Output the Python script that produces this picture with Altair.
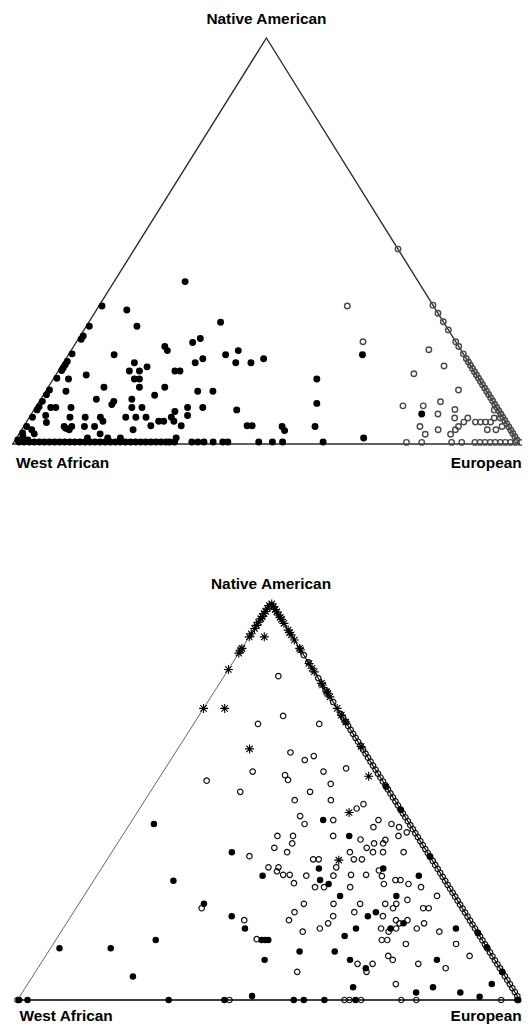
import altair as alt
import pandas as pd

# ---------------- DATA (ancestry proportions, percent) ----------------
# Each point: (European %, Native American %); West African % = 100 - both.

# Upper panel, filled circles
TOP_FILLED_LEFT_EDGE_NAT = [34, 29, 26.6, 25.8, 22.2, 20.3, 19.5, 18.7, 18.1, 16.2,
                            13.3, 12.1, 10.5, 9.2, 8.4, 6.6, 4.3, 2.7]
TOP_FILLED_INNER = [
    (14, 40), (6, 33), (10, 29), (26, 30), (9, 22),
    (18, 24), (19, 23), (23, 25), (24, 26), (26, 20), (27, 21), (31, 22), (33, 23),
    (34, 20), (37, 20), (39, 21),
    (14, 18), (14, 20), (16, 18), (17, 19), (16, 16), (17, 16), (18, 14), (11, 14),
    (11, 11), (18, 11), (23, 18), (24, 18),
    (6, 17), (3, 16), (4, 13), (22, 12), (23, 14), (30, 13), (33, 13), (14.7, 9.7), (14.7, 10.5),
    (19, 9), (21, 9), (3, 9), (4, 9), (7, 9), (30, 9), (33, 9), (3, 7), (28, 8), (31, 7),
    (8, 6.6), (11, 6.6), (14, 6.6), (15, 5.6), (19, 6.6), (21, 6.6), (23, 6.6), (26, 5.6),
    (27, 5.6), (28, 6.6), (29, 5.6), (4, 5.3), (40, 8.4),
    (8, 4.3), (8.5, 3.9), (9.4, 3.5), (9.5, 4.3), (12, 4.3), (14, 4.3), (16, 2.5), (22, 3.5),
    (25, 4.5), (31, 4.5), (44, 4.5), (45, 4.5),
    (51, 4.3), (52, 3.3), (57.5, 4.3), (52, 16), (55, 10), (58, 22), (68.5, 1.5), (77, 7.4),
    (14, 1.5), (18, 1.5), (20.5, 1.5), (31.5, 1.5),
    (0.5, 1), (1.5, 1.2), (2.5, 1), (1, 2), (3, 2.5), (2, 3.5),
]
TOP_FILLED_BASE_EUR = [1, 2, 3, 4, 5, 6, 7, 8, 9, 10, 11, 12, 13, 14, 15, 16, 17, 18, 19,
                       20, 21, 22, 23, 24, 25, 26, 27, 28, 29, 30, 30.7, 31.7, 35.1, 36.3,
                       37.5, 39.3, 41.2, 42.2, 48.3, 51, 53, 61]

# Upper panel, open circles
TOP_OPEN_RIGHT_EDGE_NAT = [48, 34.2, 32.2, 30.1, 28.1, 25.2, 24, 22.2, 21, 20.2, 19.4,
                           18.6, 17.8, 17, 16.2, 15.4, 14.6, 13.8, 13, 12.2, 11.4, 10.6,
                           9.8, 9, 8.2, 7.4, 6.6, 5.8, 5, 4.2, 3.4, 2.6, 1.8, 1]
TOP_OPEN_INNER = [
    (49, 34), (56.5, 25.2), (70.5, 23.2), (75.5, 19.2), (70.5, 17.3), (81.3, 13.3),
    (72.3, 9.4), (76.3, 9.4), (79.2, 10.4), (80.2, 7.4), (83, 8.5), (84, 6.4),
    (78.2, 4.3), (80.2, 2.4), (82.2, 3.5), (85.2, 2.4), (85.6, 3.5), (85.8, 4.3),
    (86.3, 5.4), (86.6, 6.4), (88.6, 5.4), (89.6, 5.4), (90.6, 5.4), (91.6, 5.4),
    (91.9, 3.5), (93.6, 3.5), (90.8, 8.4), (91.8, 6.4), (93, 6.4), (94.4, 4.3),
]
TOP_OPEN_BASE_EUR = [77.5, 80.5, 86.4, 88.4, 91, 92, 93, 94, 95, 96, 97, 98, 99, 100]

# Lower panel, asterisks
BOT_STAR_LEFT_EDGE_NAT = [99.3, 98.6, 97.8, 97.3, 96.5, 96.0, 95.1, 94.3, 93.5, 92.2,
                          91.4, 88.5, 88.1, 87.3, 83.2, 73.4]
BOT_STAR_INNER = [(0.3, 99.7), (3, 91.4), (4.2, 73.4), (14.3, 63.2), (41.5, 56.3),
                  (42.2, 47.2), (46.2, 35.2)]
BOT_STAR_RIGHT_EDGE_NAT = [99, 98.3, 97.7, 96.9, 96.3, 95.8, 94.8, 93.1, 92.5, 91.9, 90.6,
                           88.5, 88.1, 84.7, 83.5, 82.6, 79.7, 79.3, 77.6, 77.2, 76.3, 73.4,
                           71.7, 70.0, 63.8]

# Lower panel, filled circles
BOT_FILLED_INNER = [
    (4.8, 44.3), (23.9, 37.2), (15.9, 30), (24.9, 24.2), (32, 21.1), (36.2, 18),
    (19.9, 15.1), (1.8, 13), (12, 13), (20, 5.9), (41, 15.1), (41.7, 15.1), (42.3, 15.1),
    (44.1, 10.1), (33, 31.3), (38, 45.3), (45.2, 41.3), (43.3, 33.1), (45, 30.2),
    (47.2, 29.2), (51, 26.2), (56.1, 33.1), (62.2, 26.2), (64.1, 31.3), (59.1, 21.1),
    (60.2, 22.1), (58.3, 18), (57, 16.1), (65.2, 18), (67.1, 19.3), (50, 12.2), (57, 12.2),
    (61.1, 10.1), (65.3, 8), (78.4, 10.1), (78.2, 18), (65.2, 3.2), (78.4, 1.9), (81.1, 3.2),
    (87.2, 1.9), (91.6, 0.8), (92.4, 4), (46.2, 1),
]
BOT_FILLED_RIGHT_EDGE_NAT = [53.7, 47.8, 36.2, 16.8, 13.3, 7.1]
BOT_FILLED_BASE_EUR = [0.3, 2, 30.1, 41.2, 55, 57, 61.1, 67.3, 99.7]

# Lower panel, open circles
BOT_OPEN_INNER = [
    (10.8, 81.5), (16.8, 71.5), (12.8, 69.5), (25, 69.5), (22.9, 62.3), (26.7, 60.4),
    (28, 61.4), (36, 58.3), (17.8, 57.5), (24.7, 56.6), (25.9, 55.4), (31.9, 57.5),
    (34.9, 54.4), (9.8, 55.2), (17.9, 52.4), (31.8, 52.4), (29.8, 50.3), (37, 50.3),
    (43.2, 48.2), (44, 49.3), (32.9, 46.3), (34.8, 44.3), (40, 45.3), (49, 45.3),
    (48.9, 43.5), (52.1, 44.3), (54, 43.5), (56.2, 42.2), (30.9, 41.3), (34, 41.3),
    (34.8, 39.4), (42, 41.3), (47.9, 40.4), (51.1, 39.4), (52.9, 40.3), (55, 41.3),
    (31.8, 38.3), (34.9, 37.2), (50.2, 38.3), (52, 37.2), (54, 37.2), (52.9, 39.4),
    (58.1, 37.2), (47.4, 37.2), (49.1, 35.4), (50.7, 35.4), (41, 35.4), (42.1, 35.4),
    (27.9, 36.2), (33.1, 33.4), (35.1, 33.4), (35.3, 32.4), (37, 31.5), (38.3, 31.5),
    (40.2, 29.4), (46.6, 33.4), (50.5, 31.5), (53.5, 31.5), (55.5, 32.6), (56.8, 31.2),
    (41.7, 31.3), (47.1, 31.3), (44.9, 28.4), (46.7, 28.4), (51.9, 28.4), (58.2, 29.2),
    (60, 30.2), (61, 30.2), (63.1, 29.2), (66, 28.4), (70.3, 26.2), (61, 24.2),
    (63.2, 24.2), (64.9, 25.2), (63.1, 23.1), (69.1, 23.1), (70.2, 23.1), (50.7, 24.2),
    (56, 24.2), (55.9, 22.1), (62.1, 21.1), (67.5, 20.1), (71.2, 19.3), (65.2, 20.1),
    (66.3, 19.3), (44.8, 24.2), (44, 22.1), (43.9, 20.1), (51.1, 18), (52.1, 19.3),
    (52.2, 21.1), (48.1, 17.2), (63.3, 18), (65.2, 17.2), (66.3, 18), (70.4, 18),
    (75.3, 17.2), (64.9, 15.1), (66, 15.1), (70.2, 14.1), (80.2, 14.1), (84.4, 11.1),
    (68.2, 11.1), (69.6, 10.1), (63.1, 9.1), (66.1, 9.1), (65.9, 7.1), (75.2, 9.1),
    (81.2, 8), (52.1, 7.1), (73.3, 4), (35, 20.1), (39.9, 15.3), (25, 23.1),
]
BOT_OPEN_RIGHT_EDGE_NAT = [86.8, 85, 81, 78, 75, 72, 71, 70, 69, 68, 67, 66, 65, 64, 63,
                           62, 61, 60, 59, 58, 57, 56, 55, 54, 53, 52, 51, 50, 49, 48, 47,
                           46, 45, 44, 43, 42, 41, 40, 39, 38, 37, 36, 35, 34, 33, 32, 31,
                           30, 29, 28, 27, 26, 25, 24, 23, 22, 21, 20, 19, 18, 17, 16, 15,
                           14, 13, 12, 11, 10, 9, 8, 7, 6, 5, 4, 3, 2, 1]
BOT_OPEN_BASE_EUR = [0, 42.2, 65.1, 66.1, 68.4, 76.4, 79.4, 96.3, 99.5]

VERTEX_LABELS = ["West African", "European", "Native American"]

# ---------------- LAYOUT (page pixels of each triangle's corners) ----------------
GEOM = {
    "top": dict(xw=12.7, xe=519.5, xn=266.4, yb=444.0, yn=38.0),
    "bottom": dict(xw=17.5, xe=519.8, xn=271.0, yb=1000.0, yn=602.7),
}
PLOT_W, PLOT_H = 514, 1018

rows = []


def add(panel, group, pairs):
    for e, n in pairs:
        rows.append(dict(panel=panel, group=group, eur=e, nat=n))


add("top", "filled", [(0.6, n) for n in TOP_FILLED_LEFT_EDGE_NAT])
add("top", "filled", TOP_FILLED_INNER)
add("top", "filled", [(e, 0.5) for e in TOP_FILLED_BASE_EUR])
add("top", "open", [(100 - n, n) for n in TOP_OPEN_RIGHT_EDGE_NAT])
add("top", "open", TOP_OPEN_INNER)
add("top", "open", [(e, 0.4) for e in TOP_OPEN_BASE_EUR])
add("bottom", "star", [(0, n) for n in BOT_STAR_LEFT_EDGE_NAT])
add("bottom", "star", BOT_STAR_INNER)
add("bottom", "star", [(100 - n, n) for n in BOT_STAR_RIGHT_EDGE_NAT])
add("bottom", "filled", BOT_FILLED_INNER)
add("bottom", "filled", [(100 - n, n) for n in BOT_FILLED_RIGHT_EDGE_NAT])
add("bottom", "filled", [(e, 0) for e in BOT_FILLED_BASE_EUR])
add("bottom", "open", BOT_OPEN_INNER)
add("bottom", "open", [(100 - n, n) for n in BOT_OPEN_RIGHT_EDGE_NAT])
add("bottom", "open", [(e, 0) for e in BOT_OPEN_BASE_EUR])
points = pd.DataFrame(rows)

XS = alt.Scale(domain=[8, 8 + PLOT_W], nice=False, zero=False)
YS = alt.Scale(domain=[8, 8 + PLOT_H], nice=False, zero=False, reverse=True)
FONT = "Liberation Sans"


def place(panel, e="eur", n="nat", suffix=""):
    g = GEOM[panel]
    return {
        "px" + suffix: f"{g['xw']} + {g['xe'] - g['xw']}*datum.{e}/100 + {g['xn'] - g['xw']}*datum.{n}/100",
        "py" + suffix: f"{g['yb']} - {g['yb'] - g['yn']}*datum.{n}/100",
    }


def enc():
    return dict(x=alt.X("px:Q", scale=XS, axis=None), y=alt.Y("py:Q", scale=YS, axis=None))


layers = []

# triangle outlines
edge_rows = []
for panel, styles in [("top", [("#2e2e2e", 1.4)] * 3),
                      ("bottom", [("#000000", 1.4), ("#555555", 0.9), ("#111111", 1.2)])]:
    corners = [(0, 0), (100, 0), (0, 100)]  # West African, European, Native American
    segs = [(corners[0], corners[1]), (corners[0], corners[2]), (corners[1], corners[2])]
    for (a, b), (col, w) in zip(segs, styles):
        edge_rows.append(dict(panel=panel, e1=a[0], n1=a[1], e2=b[0], n2=b[1], col=col, w=w))
edges = pd.DataFrame(edge_rows)
for panel in ["top", "bottom"]:
    calc = {**place(panel, "e1", "n1"), **place(panel, "e2", "n2", "2")}
    layers.append(
        alt.Chart(edges)
        .transform_filter(f"datum.panel == '{panel}'")
        .transform_calculate(**calc)
        .mark_rule(strokeCap="round")
        .encode(x=alt.X("px:Q", scale=XS, axis=None), y=alt.Y("py:Q", scale=YS, axis=None),
                x2="px2:Q", y2="py2:Q",
                color=alt.Color("col:N", scale=None),
                strokeWidth=alt.StrokeWidth("w:Q", scale=None))
    )

STAR = "M-1,0L1,0M0,-1L0,1M-0.7,-0.7L0.7,0.7M-0.7,0.7L0.7,-0.7"
STYLES = [
    ("bottom", "open", dict(shape="circle", filled=False, stroke="#111111", strokeWidth=1.2, size=30)),
    ("bottom", "filled", dict(shape="circle", filled=True, color="#000000", size=42)),
    ("bottom", "star", dict(shape=STAR, filled=False, stroke="#000000", strokeWidth=1.1, size=81)),
    ("top", "open", dict(shape="circle", filled=False, stroke="#4a4a4a", strokeWidth=1.4, size=30)),
    ("top", "filled", dict(shape="circle", filled=True, color="#000000", size=48)),
]
for panel, group, style in STYLES:
    layers.append(
        alt.Chart(points)
        .transform_filter(f"datum.panel == '{panel}' && datum.group == '{group}'")
        .transform_calculate(**place(panel))
        .mark_point(opacity=1, **style)
        .encode(**enc())
    )

# vertex labels
LABELS = [
    ("top", VERTEX_LABELS[2], 0, 100, "center", 0, -13.7),
    ("top", VERTEX_LABELS[0], 0, 0, "left", 3.3, 23.7),
    ("top", VERTEX_LABELS[1], 100, 0, "right", 2.2, 23.7),
    ("bottom", VERTEX_LABELS[2], 0, 100, "center", 0, -14.2),
    ("bottom", VERTEX_LABELS[0], 0, 0, "left", 2.0, 20.5),
    ("bottom", VERTEX_LABELS[1], 100, 0, "right", 1.8, 20.5),
]
for panel, text, e, n, align, dx, dy in LABELS:
    df = pd.DataFrame([dict(label=text, eur=e, nat=n)])
    layers.append(
        alt.Chart(df)
        .transform_calculate(**place(panel))
        .mark_text(align=align, dx=dx, dy=dy, baseline="alphabetic", font=FONT,
                   fontSize=15.4, fontWeight="bold", color="#000000")
        .encode(text="label:N", **enc())
    )

chart = (
    alt.layer(*layers)
    .properties(width=PLOT_W, height=PLOT_H, padding=0,
                autosize=alt.AutoSizeParams(type="none"))
    .configure_view(stroke=None)
)

chart.save("out.html", embed_options={"renderer": "svg", "actions": False})
